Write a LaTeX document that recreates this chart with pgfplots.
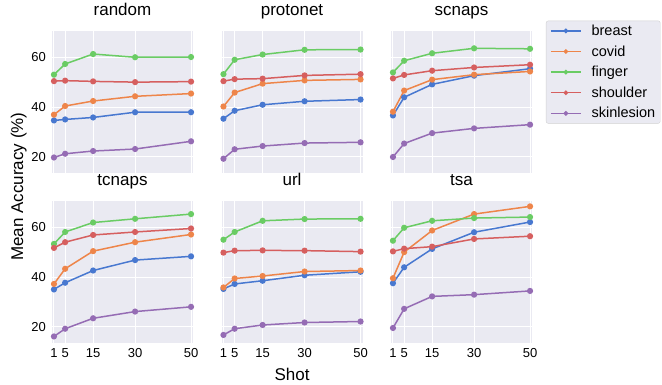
\documentclass[border=0pt]{standalone}
\usepackage{pgfplots}
\pgfplotsset{compat=1.18}
\usepackage{pgfplotstable}
\usepackage{fontspec}
\setmainfont{Liberation Sans}
\definecolor{cB}{HTML}{4878D0}
\definecolor{cO}{HTML}{EE854A}
\definecolor{cG}{HTML}{6ACC64}
\definecolor{cR}{HTML}{D65F5F}
\definecolor{cP}{HTML}{956CB4}
\definecolor{bg}{HTML}{EAEAF2}

\pgfplotstableread{
shot breast covid finger shoulder skinlesion
1 34.7 37.0 53.1 50.5 19.8
5 35.1 40.5 57.4 50.7 21.3
15 35.9 42.5 61.4 50.4 22.4
30 38.0 44.4 60.1 50.1 23.2
50 38.0 45.5 60.2 50.3 26.3
}\tRandom
\pgfplotstableread{
shot breast covid finger shoulder skinlesion
1 35.4 40.3 53.3 50.5 19.3
5 38.6 45.9 59.1 51.3 23.1
15 41.0 49.5 61.2 51.5 24.4
30 42.4 50.8 63.1 52.8 25.6
50 43.1 51.2 63.2 53.3 25.9
}\tProto
\pgfplotstableread{
shot breast covid finger shoulder skinlesion
1 36.7 38.2 54.0 51.6 20.0
5 44.0 46.7 58.7 53.0 25.4
15 49.2 51.1 61.7 54.7 29.6
30 52.7 53.1 63.7 56.0 31.5
50 55.5 54.4 63.5 57.1 33.0
}\tScnaps
\pgfplotstableread{
shot breast covid finger shoulder skinlesion
1 35.1 37.3 53.4 51.8 16.2
5 37.8 43.4 58.2 54.1 19.3
15 42.7 50.5 62.0 57.0 23.5
30 46.9 54.1 63.5 58.2 26.2
50 48.4 57.2 65.4 59.6 28.1
}\tTcnaps
\pgfplotstableread{
shot breast covid finger shoulder skinlesion
1 35.3 35.9 55.1 49.9 16.8
5 37.3 39.5 58.2 50.7 19.3
15 38.6 40.5 62.7 50.8 20.8
30 40.8 42.3 63.4 50.7 21.8
50 42.2 42.7 63.5 50.3 22.2
}\tUrl
\pgfplotstableread{
shot breast covid finger shoulder skinlesion
1 37.6 39.6 54.7 50.4 19.6
5 44.0 50.1 59.9 51.5 27.3
15 51.4 58.8 62.7 52.3 32.3
30 58.1 65.4 63.8 55.4 33.0
50 62.2 68.5 64.2 56.5 34.5
}\tTsa

\pgfplotsset{
  panel/.style={
    width=141pt, height=142pt, scale only axis,
    xmin=0.3, xmax=50.7, ymin=13.7, ymax=70.8,
    xtick={1,5,15,30,50}, ytick={20,40,60},
    grid=major, major grid style={white, line width=1pt},
    axis background/.style={fill=bg},
    axis line style={draw=none},
    major tick length=0pt,
    tick label style={font=\fontsize{13}{15}\selectfont},
    /pgf/number format/assume math mode=true,
    title style={font=\fontsize{17}{20}\selectfont, at={(0.5,1)}, anchor=base, yshift=9pt},
    xticklabel style={anchor=north, inner sep=0pt, yshift=-6pt},
    yticklabel style={anchor=east, inner sep=0pt, xshift=-6pt},
    legend image code/.code={\draw[line width=1.4pt,mark repeat=2,mark phase=2,mark size=1.6pt] plot coordinates {(0pt,0pt)(15pt,0pt)(30pt,0pt)};},
  },
  ser/.style={#1, line width=1.5pt, mark=*, mark size=2.3pt, mark options={solid, fill=#1}},
  nox/.style={xticklabels={}},
  noy/.style={yticklabels={}},
}

\newcommand\panel[4]{%
\begin{axis}[panel, at={(#3)}, anchor=south west, title={#2}, #4]
\addplot[ser=cB] table[x=shot,y=breast]{#1};
\addplot[ser=cO] table[x=shot,y=covid]{#1};
\addplot[ser=cG] table[x=shot,y=finger]{#1};
\addplot[ser=cR] table[x=shot,y=shoulder]{#1};
\addplot[ser=cP] table[x=shot,y=skinlesion]{#1};
\end{axis}}

\begin{document}
\begin{tikzpicture}
\path (0pt,0pt) rectangle (662pt,383pt);
\panel{\tRandom}{random}{52pt,211pt}{nox}
\panel{\tProto}{protonet}{221.5pt,211pt}{nox,noy}
\panel{\tScnaps}{scnaps}{391pt,211pt}{nox,noy,
  legend entries={breast,covid,finger,shoulder,skinlesion},
  legend style={at={(1.099,1.07)}, anchor=north west, fill=bg, draw=black!18,
    rounded corners=2pt, font=\fontsize{14.5}{17}\selectfont,
    nodes={inner xsep=1pt},
    /tikz/every odd column/.append style={column sep=9pt},
    cells={anchor=west}, row sep=4.6pt, inner xsep=4pt, inner ysep=2pt}}
\panel{\tTcnaps}{tcnaps}{52pt,41pt}{}
\panel{\tUrl}{url}{221.5pt,41pt}{noy}
\panel{\tTsa}{tsa}{391pt,41pt}{noy}
\node[anchor=base, font=\fontsize{17}{20}\selectfont] at (292pt,3pt) {Shot};
\node[anchor=base, rotate=90, font=\fontsize{17}{20}\selectfont] at (23pt,197pt) {Mean Accuracy (\%)};
\end{tikzpicture}
\end{document}
